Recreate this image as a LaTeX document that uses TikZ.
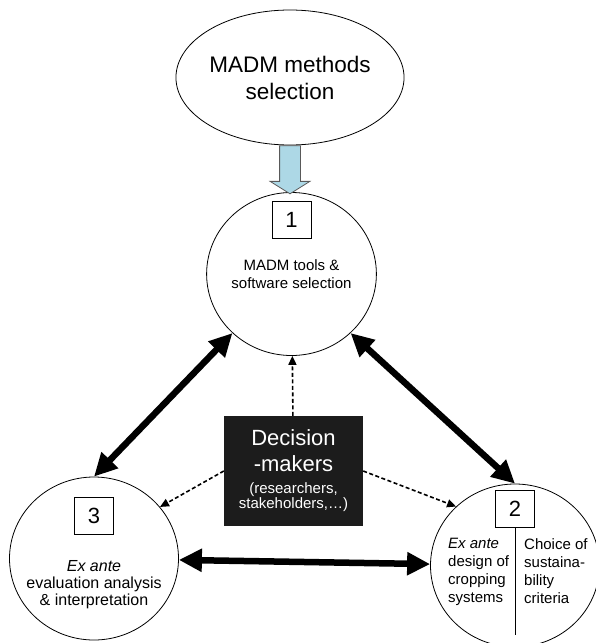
\documentclass[tikz,border=0pt]{standalone}
\usepackage{fontspec}
\setmainfont{Liberation Sans}
\usepackage{xcolor}
\usetikzlibrary{positioning,shapes.geometric,shapes.arrows,arrows.meta}
\definecolor{celeste}{RGB}{173,216,230}
\definecolor{casinegro}{RGB}{28,28,28}

\begin{document}
\begin{tikzpicture}[x=1pt, y=1pt,
    circulo/.style={draw, ellipse, minimum width=169pt, minimum height=163pt, inner sep=0pt, line width=0.8pt},
    numero/.style={draw, rectangle, minimum width=39pt, minimum height=37pt, inner sep=0pt, line width=0.8pt, font=\fontsize{22}{24}\selectfont},
    texto/.style={inner sep=0pt, align=center, font=\fontsize{15}{18}\selectfont},
    columna/.style={inner sep=0pt, align=left, font=\fontsize{15}{18}\selectfont},
    doble/.style={{Triangle[length=23pt,width=22pt]}-{Triangle[length=23pt,width=22pt]}, line width=6.5pt},
    rayas/.style={-{Triangle[length=9pt,width=8pt]}, line width=1.6pt, dash pattern=on 4pt off 2.5pt}]
  \useasboundingbox (0,0) rectangle (596,-643);

  % Nodos principales
  \node[draw, ellipse, minimum width=194pt, minimum height=135pt, inner sep=0pt, line width=0.8pt, align=center, font=\fontsize{22.5}{27}\selectfont] (metodos) at (290,-77.5) {MADM methods\\selection};
  \node[circulo, texto] (herram) at (291.5,-274) {MADM tools \&\\software selection};
  \node[circulo] (diseno) at (515,-565.5) {};
  \node[circulo] (evalua) at (94,-558.5) {};
  \node[draw=none, fill=casinegro, text=white, minimum width=139pt, minimum height=110pt, inner sep=0pt, text width=139pt, align=center] (decisores) at (293.5,-471)
    {\fontsize{22}{26}\selectfont Decision\\-makers\par\vspace{4pt}\fontsize{15}{18}\selectfont (researchers,\\stakeholders,\dots)};

  % Numeros y textos interiores
  \node[numero, below=9pt of herram.north] (n1) {1};
  \node[numero, below=6pt of diseno.north] (n2) {2};
  \node[numero, below=20pt of evalua.north] (n3) {3};
  \node[texto, font=\fontsize{16}{17}\selectfont] (t3) at ([yshift=-26pt]evalua.center) {\textit{Ex ante}\\evaluation analysis\\\& interpretation};
  \node[columna, anchor=north west] (izq) at ([xshift=-67pt, yshift=-11pt]n2.south) {\textit{Ex ante}\\design of\\cropping\\systems};
  \node[columna, anchor=north west] (der) at ([xshift=9pt, yshift=-11pt]n2.south) {Choice of\\sustaina-\\bility\\criteria};
  \draw[line width=0.8pt] (n2.south) -- ++(0,-108);

  % Flecha azul
  \node[single arrow, draw=black!65, fill=celeste, line width=0.8pt, rotate=-90, anchor=tail, inner xsep=0pt, inner ysep=10pt,
        minimum height=48pt, single arrow head extend=9.5pt, single arrow tip angle=116] (flecha) at (metodos.south) {};

  % Flechas dobles
  \draw[doble] (herram.225) -- (evalua.north);
  \draw[doble] (herram.-45) -- (diseno.north);
  \draw[doble] (evalua) -- (diseno);

  % Flechas de los decisores
  \draw[rayas] (decisores) -- (herram);
  \draw[rayas] (decisores.west) -- (evalua.38);
  \draw[rayas] (decisores.east) -- (diseno.135);
\end{tikzpicture}
\end{document}
